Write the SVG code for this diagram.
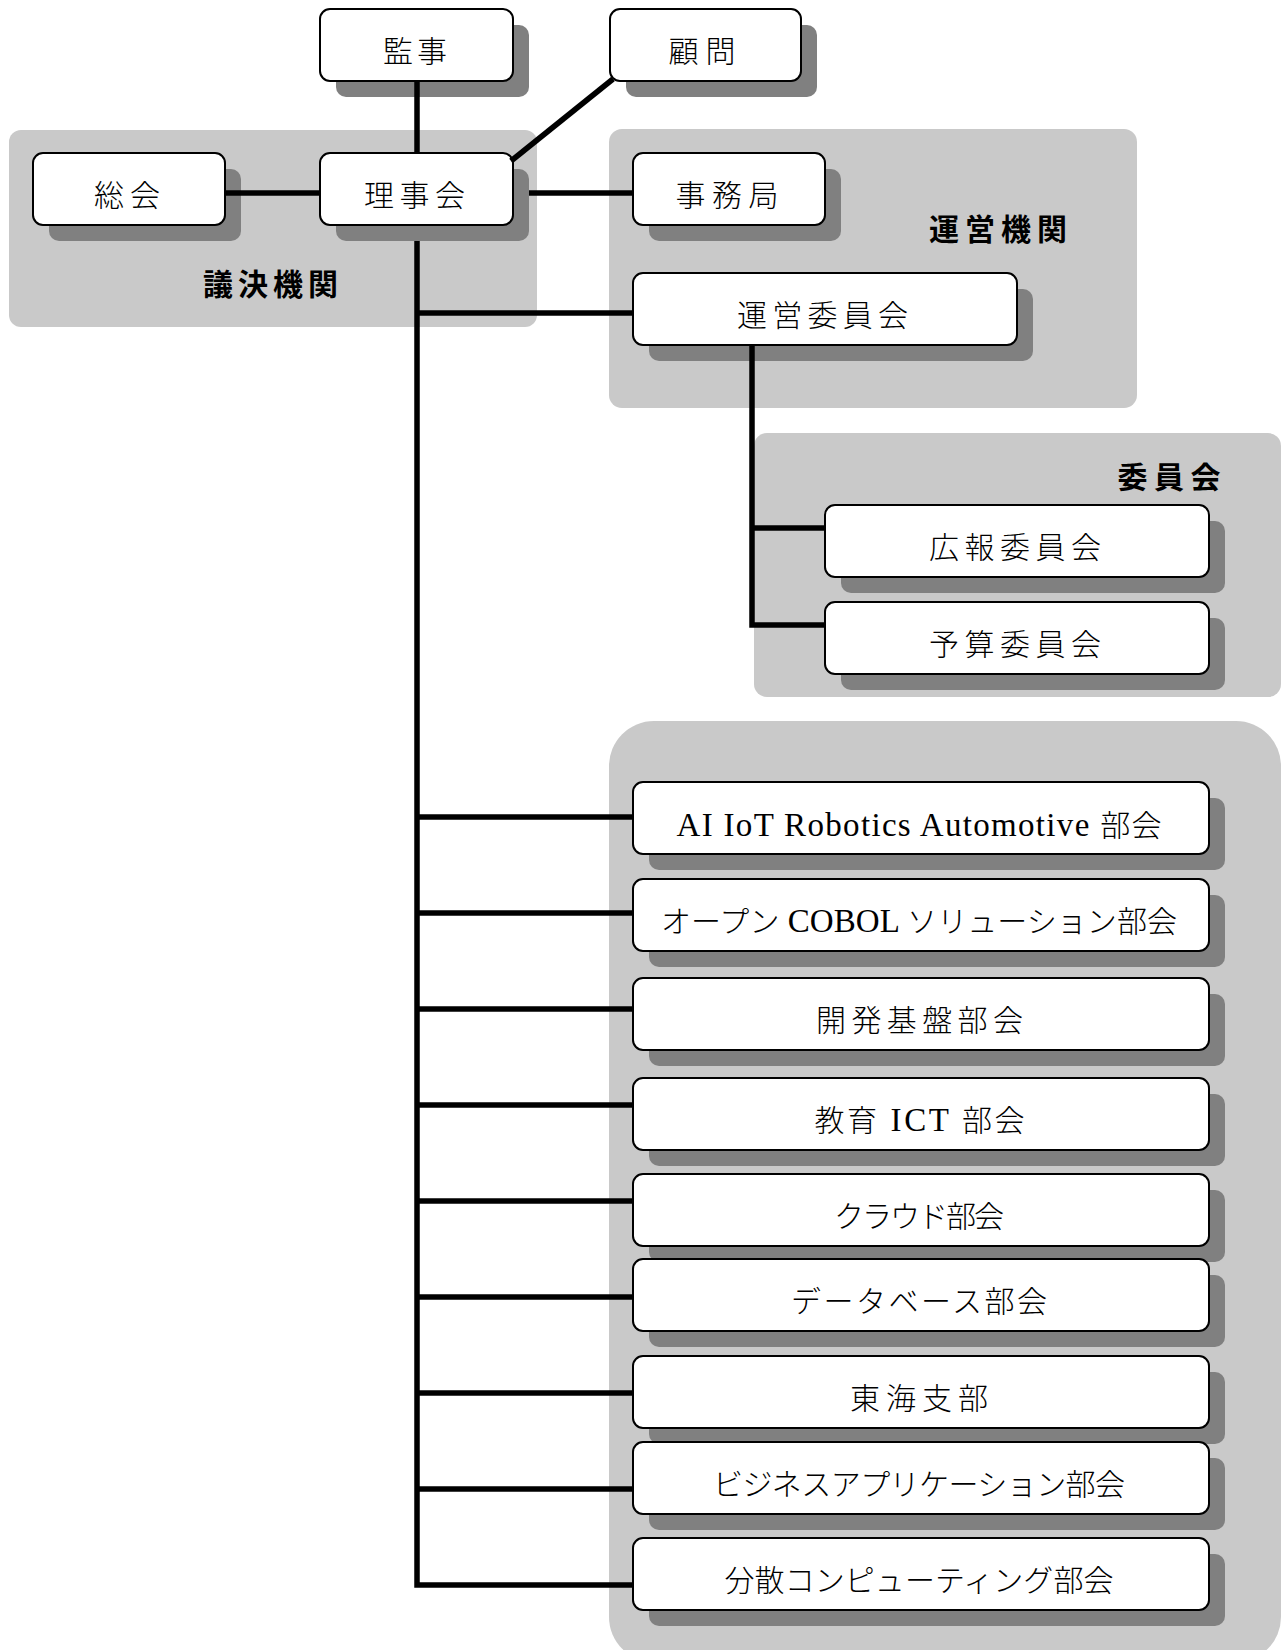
<svg xmlns="http://www.w3.org/2000/svg" width="1286" height="1650" viewBox="0 0 1286 1650">
<style>
.panel{fill:#c9c9c9}
.sh{fill:#808080}
.box{fill:#ffffff;stroke:#000000;stroke-width:2}
.lbl{font-family:"Liberation Serif","Noto Sans CJK JP",serif;font-size:30px;font-weight:300;text-anchor:middle;fill:#000}
.lat{font-size:33px}
.plbl{font-family:"Noto Sans CJK JP","Noto Sans",sans-serif;font-weight:bold;font-size:30px;text-anchor:middle;fill:#000}
.con{fill:none;stroke:#000;stroke-width:5.5;stroke-linejoin:miter;stroke-linecap:butt}
</style>
<rect width="1286" height="1650" fill="#ffffff"/>
<g id="panels">
<rect class="panel" x="9" y="130" width="528" height="197" rx="12"/>
<rect class="panel" x="609" y="129" width="528" height="279" rx="13"/>
<rect class="panel" x="754" y="433" width="527" height="264" rx="13"/>
<rect class="panel" x="609" y="721" width="672" height="941" rx="45"/>
<text class="plbl" x="270.5" y="295" textLength="135" lengthAdjust="spacing">議決機関</text>
<text class="plbl" x="998" y="240" textLength="138" lengthAdjust="spacing">運営機関</text>
<text class="plbl" x="1169" y="488" textLength="103" lengthAdjust="spacing">委員会</text>
</g>
<g id="n-kanji">
<rect class="sh" x="336" y="25" width="193" height="72" rx="10"/>
<rect class="box" x="320" y="9" width="193" height="72" rx="10"/>
<text class="lbl" x="415" y="62" textLength="64" lengthAdjust="spacing">監事</text>
</g>
<g id="n-komon">
<rect class="sh" x="626" y="25" width="191" height="72" rx="10"/>
<rect class="box" x="610" y="9" width="191" height="72" rx="10"/>
<text class="lbl" x="702" y="62" textLength="67" lengthAdjust="spacing">顧問</text>
</g>
<g id="n-soukai">
<rect class="sh" x="49" y="169" width="192" height="72" rx="10"/>
<rect class="box" x="33" y="153" width="192" height="72" rx="10"/>
<text class="lbl" x="127" y="206" textLength="66" lengthAdjust="spacing">総会</text>
</g>
<g id="n-rijikai">
<rect class="sh" x="336" y="169" width="193" height="72" rx="10"/>
<rect class="box" x="320" y="153" width="193" height="72" rx="10"/>
<text class="lbl" x="414.5" y="206" textLength="101" lengthAdjust="spacing">理事会</text>
</g>
<g id="n-jimukyoku">
<rect class="sh" x="649" y="169" width="192" height="72" rx="10"/>
<rect class="box" x="633" y="153" width="192" height="72" rx="10"/>
<text class="lbl" x="727" y="206" textLength="103" lengthAdjust="spacing">事務局</text>
</g>
<g id="n-unei">
<rect class="sh" x="649" y="289" width="384" height="72" rx="10"/>
<rect class="box" x="633" y="273" width="384" height="72" rx="10"/>
<text class="lbl" x="822.5" y="326" textLength="171" lengthAdjust="spacing">運営委員会</text>
</g>
<g id="n-kouhou">
<rect class="sh" x="841" y="521" width="384" height="72" rx="10"/>
<rect class="box" x="825" y="505" width="384" height="72" rx="10"/>
<text class="lbl" x="1015" y="558" textLength="172" lengthAdjust="spacing">広報委員会</text>
</g>
<g id="n-yosan">
<rect class="sh" x="841" y="618" width="384" height="72" rx="10"/>
<rect class="box" x="825" y="602" width="384" height="72" rx="10"/>
<text class="lbl" x="1015" y="655" textLength="172" lengthAdjust="spacing">予算委員会</text>
</g>
<g id="n-ai">
<rect class="sh" x="649" y="798" width="576" height="72" rx="10"/>
<rect class="box" x="633" y="782" width="576" height="72" rx="10"/>
<text class="lbl" x="919" y="836" textLength="485" lengthAdjust="spacing"><tspan class="lat">AI IoT Robotics Automotive </tspan>部会</text>
</g>
<g id="n-cobol">
<rect class="sh" x="649" y="895" width="576" height="72" rx="10"/>
<rect class="box" x="633" y="879" width="576" height="72" rx="10"/>
<text class="lbl" x="919" y="932" textLength="516" lengthAdjust="spacing">オープン<tspan class="lat"> COBOL </tspan>ソリューション部会</text>
</g>
<g id="n-kaihatsu">
<rect class="sh" x="649" y="994" width="576" height="72" rx="10"/>
<rect class="box" x="633" y="978" width="576" height="72" rx="10"/>
<text class="lbl" x="919.5" y="1031" textLength="207" lengthAdjust="spacing">開発基盤部会</text>
</g>
<g id="n-kyouiku">
<rect class="sh" x="649" y="1094" width="576" height="72" rx="10"/>
<rect class="box" x="633" y="1078" width="576" height="72" rx="10"/>
<text class="lbl" x="919.5" y="1131" textLength="210" lengthAdjust="spacing">教育<tspan class="lat"> ICT </tspan>部会</text>
</g>
<g id="n-cloud">
<rect class="sh" x="649" y="1190" width="576" height="72" rx="10"/>
<rect class="box" x="633" y="1174" width="576" height="72" rx="10"/>
<text class="lbl" x="919" y="1227" textLength="170" lengthAdjust="spacing">クラウド部会</text>
</g>
<g id="n-database">
<rect class="sh" x="649" y="1275" width="576" height="72" rx="10"/>
<rect class="box" x="633" y="1259" width="576" height="72" rx="10"/>
<text class="lbl" x="919" y="1312" textLength="256" lengthAdjust="spacing">データベース部会</text>
</g>
<g id="n-toukai">
<rect class="sh" x="649" y="1372" width="576" height="72" rx="10"/>
<rect class="box" x="633" y="1356" width="576" height="72" rx="10"/>
<text class="lbl" x="919" y="1409" textLength="138" lengthAdjust="spacing">東海支部</text>
</g>
<g id="n-business">
<rect class="sh" x="649" y="1458" width="576" height="72" rx="10"/>
<rect class="box" x="633" y="1442" width="576" height="72" rx="10"/>
<text class="lbl" x="919" y="1495" textLength="412" lengthAdjust="spacing">ビジネスアプリケーション部会</text>
</g>
<g id="n-bunsan">
<rect class="sh" x="649" y="1554" width="576" height="72" rx="10"/>
<rect class="box" x="633" y="1538" width="576" height="72" rx="10"/>
<text class="lbl" x="919" y="1591" textLength="389" lengthAdjust="spacing">分散コンピューティング部会</text>
</g>
<g id="connectors" class="con">
<line x1="417" y1="82" x2="417" y2="152"/>
<line x1="511" y1="161" x2="613" y2="79"/>
<line x1="226" y1="193" x2="319" y2="193"/>
<line x1="529" y1="193" x2="632" y2="193"/>
<polyline points="417,241 417,1585 632,1585"/>
<line x1="417" y1="313" x2="632" y2="313"/>
<line x1="417" y1="817" x2="632" y2="817"/>
<line x1="417" y1="913" x2="632" y2="913"/>
<line x1="417" y1="1009" x2="632" y2="1009"/>
<line x1="417" y1="1105" x2="632" y2="1105"/>
<line x1="417" y1="1201" x2="632" y2="1201"/>
<line x1="417" y1="1297" x2="632" y2="1297"/>
<line x1="417" y1="1393" x2="632" y2="1393"/>
<line x1="417" y1="1489" x2="632" y2="1489"/>
<polyline points="752,346 752,625 824,625"/>
<line x1="752" y1="528" x2="824" y2="528"/>
</g>
</svg>
